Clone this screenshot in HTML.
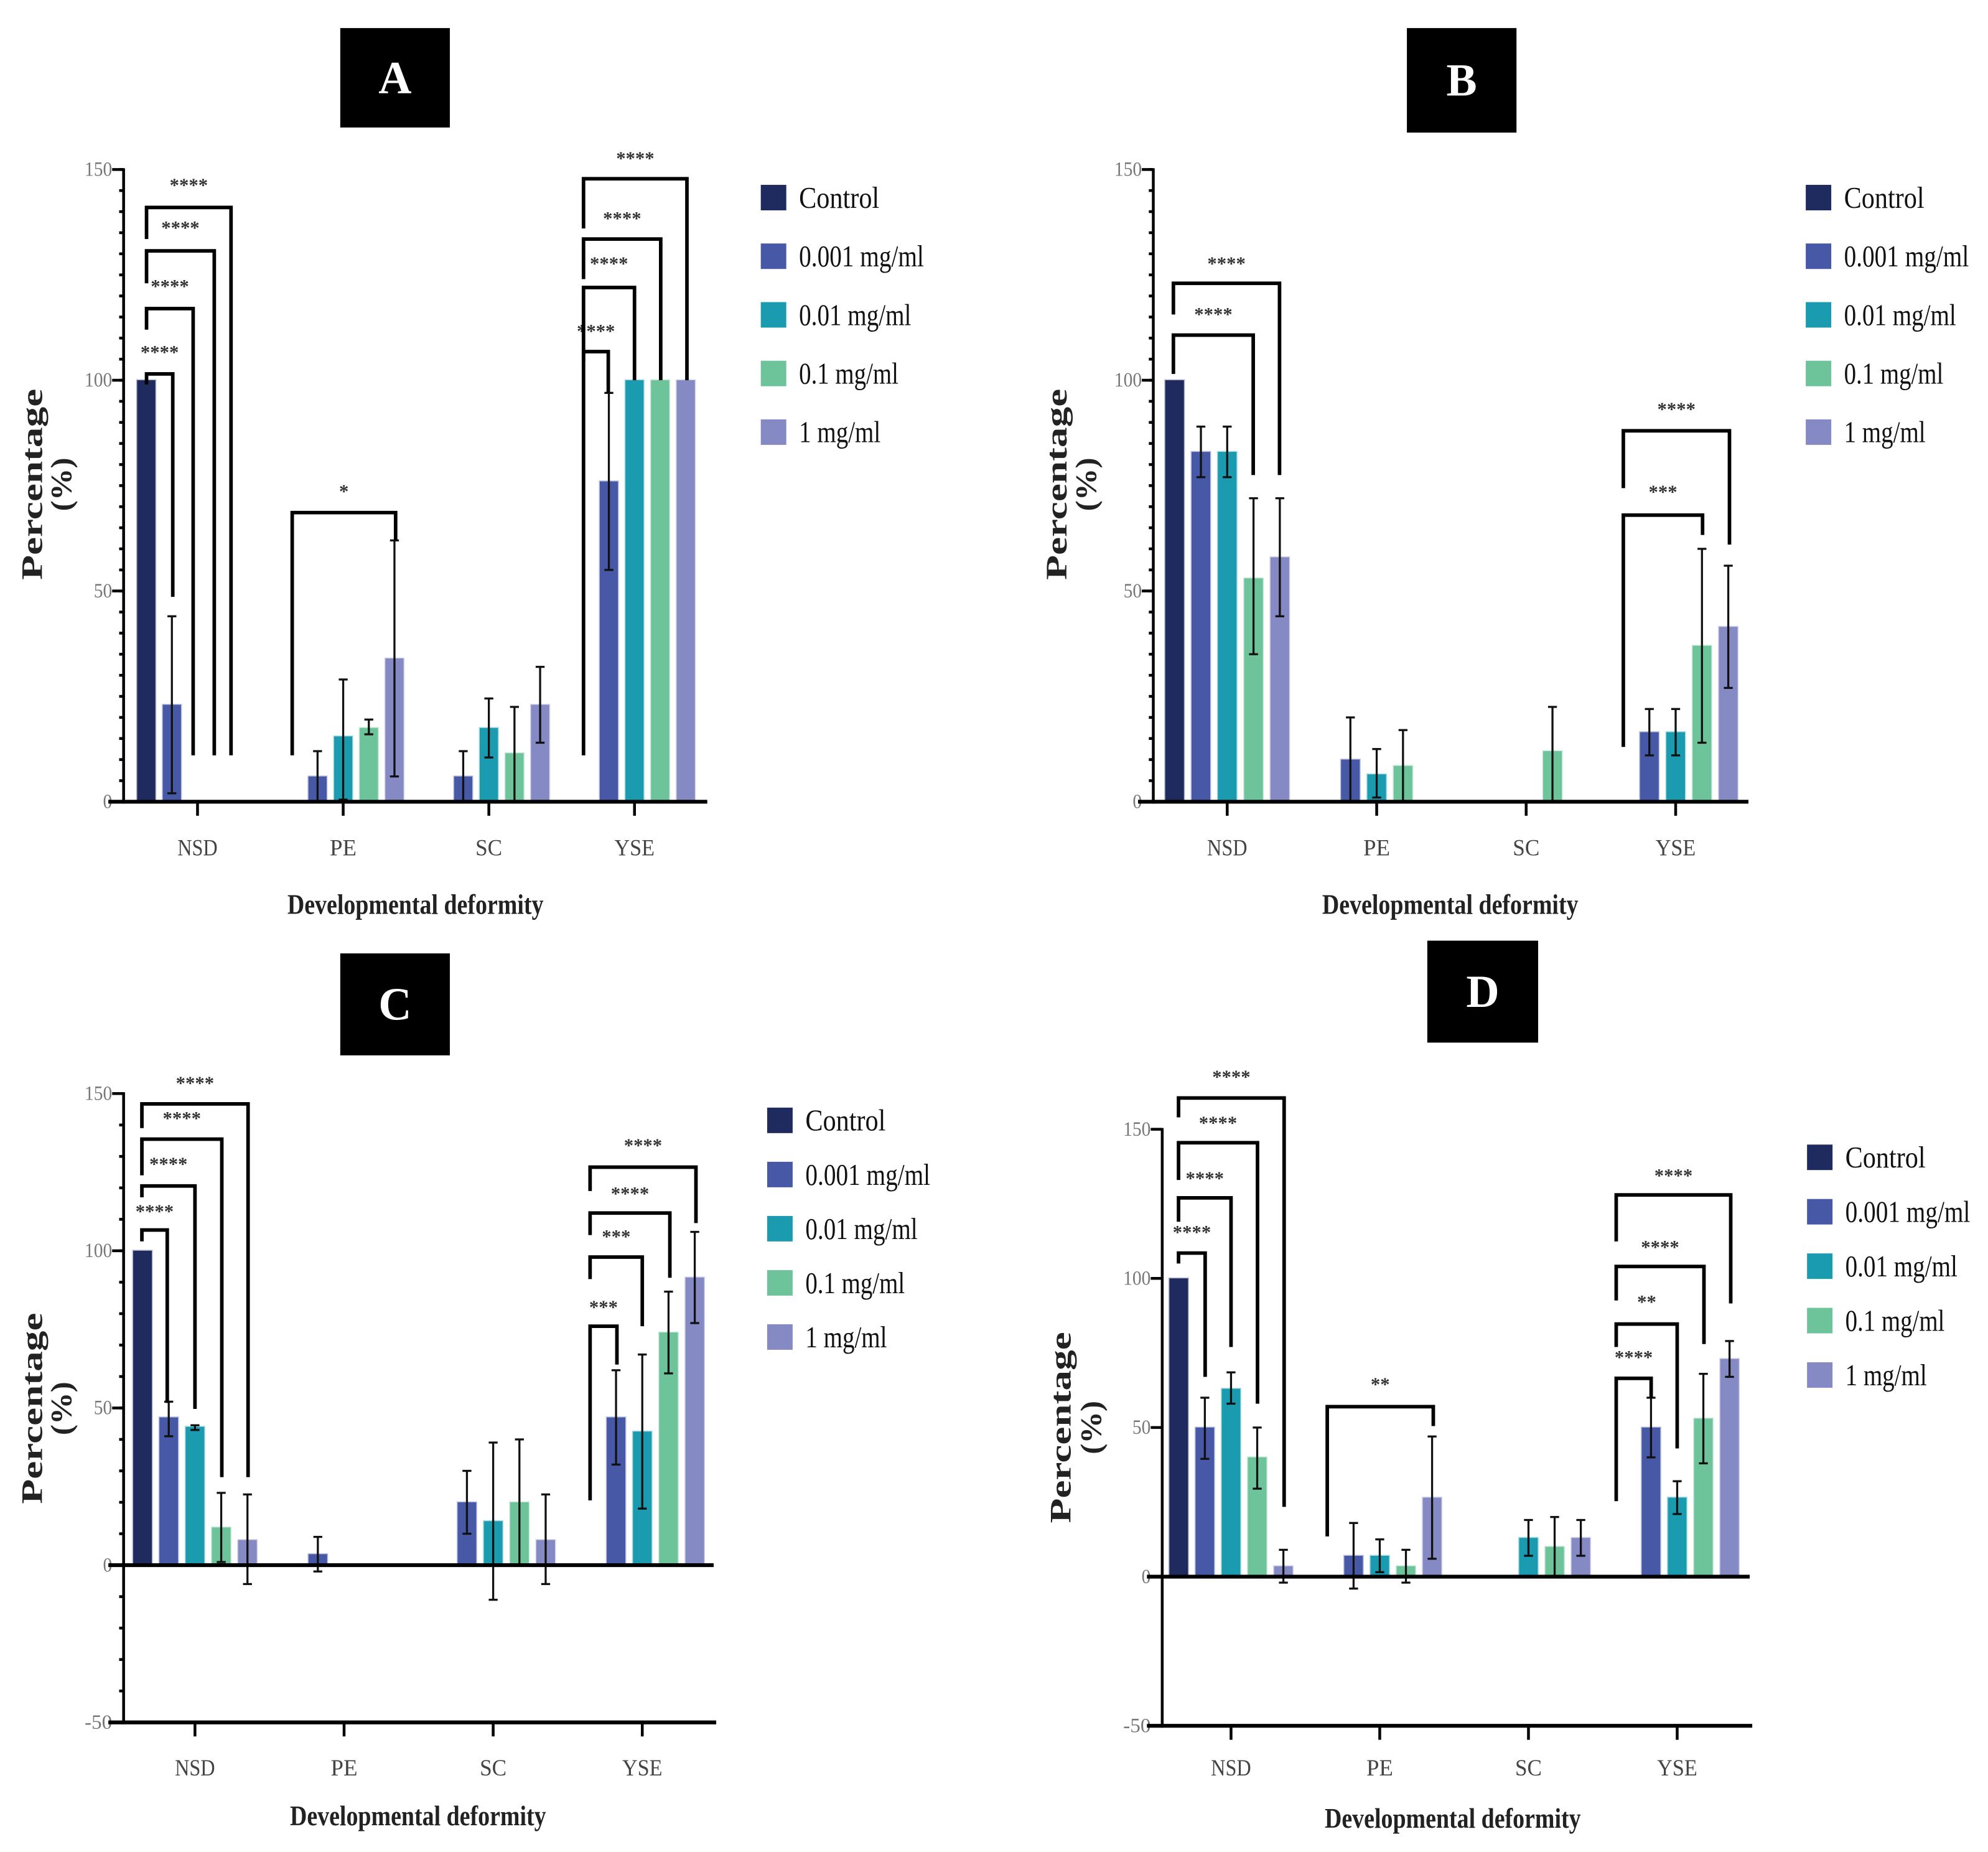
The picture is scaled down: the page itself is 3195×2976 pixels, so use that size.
<!DOCTYPE html>
<html><head><meta charset="utf-8"><style>
html,body{margin:0;padding:0;background:#fff;}
svg{display:block;}
</style></head><body>
<svg id="fig" xmlns="http://www.w3.org/2000/svg" width="3195" height="2976" viewBox="0 0 1560 1453" font-family="'Liberation Serif', serif">
<rect x="0" y="0" width="1560" height="1453" fill="#fff"/>
</svg>
<script>
const categories = ['NSD','PE','SC','YSE'];
const seriesNames = ['Control','0.001 mg/ml','0.01 mg/ml','0.1 mg/ml','1 mg/ml'];
const seriesColors = ['#1f2a5e','#4758a6','#1b9bb0','#6dc39a','#8589c4'];
const legendLens = [63,98,88,78,64];

const valsA = [[100,0,0,0],[23,6,6,76],[0,15.5,17.5,100],[0,17.5,11.5,100],[0,34,23,100]];
const loA = [[null,null,null,null],[2,0,0,55],[null,0.5,10.5,null],[null,16,0,null],[null,6,14,null]];
const hiA = [[null,null,null,null],[44,12,12,97],[null,29,24.5,null],[null,19.5,22.5,null],[null,62,32,null]];

const valsB = [[100,0,0,0],[83,10,0,16.5],[83,6.5,0,16.5],[53,8.5,12,37],[58,0,0,41.5]];
const loB = [[null,null,null,null],[77,0,null,11],[77,1,null,11],[35,0,0,14],[44,null,null,27]];
const hiB = [[null,null,null,null],[89,20,null,22],[89,12.5,null,22],[72,17,22.5,60],[72,null,null,56]];

const valsC = [[100,0,0,0],[47,3.5,20,47],[44,0,14,42.5],[12,0,20,74],[8,0,8,91.5]];
const loC = [[null,null,null,null],[41,-2,10,32],[43,null,-11,18],[1,null,0,61],[-6,null,-6,77]];
const hiC = [[null,null,null,null],[52,9,30,62],[44.5,null,39,67],[23,null,40,87],[22.5,null,22.5,106]];

const valsD = [[100,0,0,0],[50,7,0,50],[63,7,13,26.5],[40,3.5,10,53],[3.5,26.5,13,73]];
const loD = [[null,null,null,null],[39.5,-4,null,40],[58,1.5,7,21],[29.5,-2,0,38],[-2,6,7,67]];
const hiD = [[null,null,null,null],[60,18,null,60],[68.5,12.5,19,32],[50,9,20,68],[9,47,19,79]];

// [category, left offset, right offset, top, left bottom, right bottom, label, label value]
const bracketsA = [
 [0,-0.35,-0.17,101.5,99,48.6,'****',107],
 [0,-0.35,-0.03,117,112,11,'****',122.6],
 [0,-0.35,0.115,130.7,123,11,'****',136.5],
 [0,-0.35,0.23,141,133.5,11,'****',146.6],
 [1,-0.35,0.36,68.6,11,62,'*',74],
 [3,-0.35,-0.18,106.8,104.5,97,'****',112],
 [3,-0.35,0,122,11,100,'****',128],
 [3,-0.35,0.18,133.5,124,100,'****',138.7],
 [3,-0.35,0.36,147.8,136,100,'****',153]];
const bracketsB = [
 [0,-0.36,0.174,110.7,101.5,77.5,'****',116],
 [0,-0.36,0.35,123,115.6,77.5,'****',128],
 [3,-0.35,0.18,68,13,63.3,'***',73.8],
 [3,-0.35,0.36,88,74.4,61,'****',93.5]];
const bracketsC = [
 [0,-0.356,-0.186,106.6,103,51.6,'****',113],
 [0,-0.356,0,120.6,117,49.7,'****',128],
 [0,-0.356,0.18,135.5,124,28,'****',142.6],
 [0,-0.356,0.356,146.7,139,28,'****',153.8],
 [3,-0.35,-0.17,76,20.6,63.8,'***',82.5],
 [3,-0.35,0,98,91,76,'***',105],
 [3,-0.35,0.185,112,105,91.4,'****',118.6],
 [3,-0.35,0.36,126.6,119,108.8,'****',134]];
const bracketsD = [
 [0,-0.353,-0.174,108.5,105,67,'****',116],
 [0,-0.353,0,127,119,77,'****',134],
 [0,-0.353,0.178,145.5,133,58,'****',152.6],
 [0,-0.353,0.357,160.5,154,23.4,'****',168],
 [1,-0.353,0.36,57,13.5,50.5,'**',65],
 [3,-0.41,-0.175,66.5,25.3,60,'****',74],
 [3,-0.41,0,84.7,77,43,'**',92.6],
 [3,-0.41,0.18,104,92.6,78,'****',111],
 [3,-0.41,0.36,128,112.4,91.6,'****',135]];

const yTicksPos = [0,50,100,150];
const yTicksNeg = [-50,0,50,100,150];

const NS='http://www.w3.org/2000/svg';
const svg=document.getElementById('fig');
function mk(tag,attrs,parent,text){const e=document.createElementNS(NS,tag);for(const k in attrs)e.setAttribute(k,attrs[k]);if(text!==undefined)e.textContent=text;(parent||svg).appendChild(e);return e;}

const panels=[
 {id:'a',letter:'A',box:[267,22,86,78],ax:97,y0:629,ppu:3.307,nsd:155,cat:114.3,xEnd:555,ymin:0,ticks:yTicksPos,minor:5,vals:valsA,lo:loA,hi:hiA,br:bracketsA,leg:[597,155,46],ytx:[25,48,380],xt:[326,710],xl:664},
 {id:'b',letter:'B',box:[1104,22,86,82],ax:905,y0:629,ppu:3.307,nsd:963,cat:117.3,xEnd:1372,ymin:0,ticks:yTicksPos,minor:5,vals:valsB,lo:loB,hi:hiB,br:bracketsB,leg:[1417,155,46],ytx:[829,852,380],xt:[1138,710],xl:664},
 {id:'c',letter:'C',box:[267,748,86,80],ax:97,y0:1228,ppu:2.467,nsd:153,cat:117,xEnd:560,ymin:-50,ticks:yTicksNeg,minor:10,vals:valsC,lo:loC,hi:hiC,br:bracketsC,leg:[602,879,42.5],ytx:[25,48,1105],xt:[328,1425],xl:1386},
 {id:'d',letter:'D',box:[1120,738,87,80],ax:912,y0:1237,ppu:2.34,nsd:966,cat:116.7,xEnd:1373,ymin:-50,ticks:yTicksNeg,minor:0,vals:valsD,lo:loD,hi:hiD,br:bracketsD,leg:[1418,908,42.7],ytx:[832,856,1120],xt:[1140,1427],xl:1386}
];

panels.forEach(p=>{
 const g=mk('g',{});
 
 
 const Y=v=>p.y0-v*p.ppu;
 const X=(c,off)=>p.nsd+(c+off)*p.cat;
 const tb=mk('rect',{x:p.box[0],y:p.box[1],width:p.box[2],height:p.box[3],fill:'#000'},g);
 
 
 const tt=mk('text',{x:p.box[0]+p.box[2]/2,y:p.box[1]+p.box[3]/2+12,'text-anchor':'middle','font-size':36,'font-weight':'bold',fill:'#fff'},g,p.letter);
 
 
 const bw=0.125*p.cat;
 p.vals.forEach((arr,s)=>{
  arr.forEach((v,c)=>{
   if(v===0)return;
   const x=X(c,(s-2)*0.176);
   const top=Math.min(Y(v),Y(0)),h=Math.abs(Y(v)-Y(0));
   const r=mk('rect',{x:x-bw/2,y:top,width:bw,height:h,fill:seriesColors[s],stroke:seriesColors[s],'stroke-opacity':0.35,'stroke-width':1.5},g);
   
   
   const lo=p.lo[s][c],hi=p.hi[s][c];
   if(lo!==null&&hi!==null){
    const eg=mk('g',{stroke:'#111','stroke-width':1.6,fill:'none'},g);
    
    
    mk('line',{x1:x,x2:x,y1:Y(lo),y2:Y(hi)},eg);
    mk('line',{x1:x-3.5,x2:x+3.5,y1:Y(lo),y2:Y(lo)},eg);
    mk('line',{x1:x-3.5,x2:x+3.5,y1:Y(hi),y2:Y(hi)},eg);
   }
  });
 });
 const ya=mk('line',{x1:p.ax,x2:p.ax,y1:Y(150)-1,y2:Y(p.ymin)+1.5,stroke:'#000','stroke-width':2.2},g);
 
 
 if(p.minor){
  for(let v=p.ymin;v<=150;v+=p.minor){
   mk('line',{x1:p.ax-3.5,x2:p.ax,y1:Y(v),y2:Y(v),stroke:'#000','stroke-width':2.2},g);
  }
 }
 p.ticks.forEach(t=>{
  mk('line',{x1:p.ax-9,x2:p.ax,y1:Y(t),y2:Y(t),stroke:'#000','stroke-width':2.2},g);
  const tl=mk('text',{x:p.ax-9,y:Y(t)+5,'text-anchor':'end','font-size':16,fill:'#777',textLength:(String(t).length*7.2),lengthAdjust:'spacingAndGlyphs'},g,String(t));
  
  
 });
 const xa=mk('line',{x1:p.ax-12,x2:p.xEnd,y1:Y(0),y2:Y(0),stroke:'#000','stroke-width':3},g);
 
 
 const baseY=Y(p.ymin);
 if(p.ymin<0){
  const xb=mk('line',{x1:p.ax-12,x2:p.xEnd+2,y1:baseY,y2:baseY,stroke:'#000','stroke-width':3},g);
  
  
 }
 categories.forEach((c,i)=>{
  mk('line',{x1:X(i,0),x2:X(i,0),y1:baseY,y2:baseY+11,stroke:'#000','stroke-width':2.2},g);
  const cl=mk('text',{x:X(i,0),y:p.xl+7,'text-anchor':'middle','font-size':18,fill:'#444',textLength:c.length*10.5,lengthAdjust:'spacingAndGlyphs'},g,c);
  
  
 });
 const xt=mk('text',{x:p.xt[0],y:p.xt[1]+7,'text-anchor':'middle','font-size':22,'font-weight':'bold',fill:'#222',textLength:201,lengthAdjust:'spacingAndGlyphs'},g,'Developmental deformity');
 
 
 const yt=mk('text',{x:0,y:0,'text-anchor':'middle','font-size':23,'font-weight':'bold',fill:'#222',textLength:150,lengthAdjust:'spacingAndGlyphs',transform:`translate(${p.ytx[0]+8},${p.ytx[2]}) rotate(-90)`},g,'Percentage');
 
 
 const yt2=mk('text',{x:0,y:0,'text-anchor':'middle','font-size':23,'font-weight':'bold',fill:'#222',textLength:42,lengthAdjust:'spacingAndGlyphs',transform:`translate(${p.ytx[1]+8},${p.ytx[2]}) rotate(-90)`},g,'(%)');
 
 
 p.br.forEach(b=>{
  const xl=X(b[0],b[1]),xr=X(b[0],b[2]),yt=Y(b[3]);
  const bg=mk('g',{},g);
  
  
  mk('polyline',{points:`${xl},${Y(b[4])} ${xl},${yt} ${xr},${yt} ${xr},${Y(b[5])}`,fill:'none',stroke:'#000','stroke-width':2.8},bg);
  mk('text',{x:(xl+xr)/2,y:Y(b[7])+6,'text-anchor':'middle','font-size':15,'font-weight':'bold',fill:'#333'},bg,b[6]);
 });
 seriesNames.forEach((n,i)=>{
  const cy=p.leg[1]+i*p.leg[2];
  const lg=mk('g',{},g);
  
  
  mk('rect',{x:p.leg[0],y:cy-10,width:20,height:20,fill:seriesColors[i]},lg);
  mk('text',{x:p.leg[0]+30,y:cy+8,'font-size':24,fill:'#111',textLength:legendLens[i],lengthAdjust:'spacingAndGlyphs'},lg,n);
 });
});
</script>
</body></html>
